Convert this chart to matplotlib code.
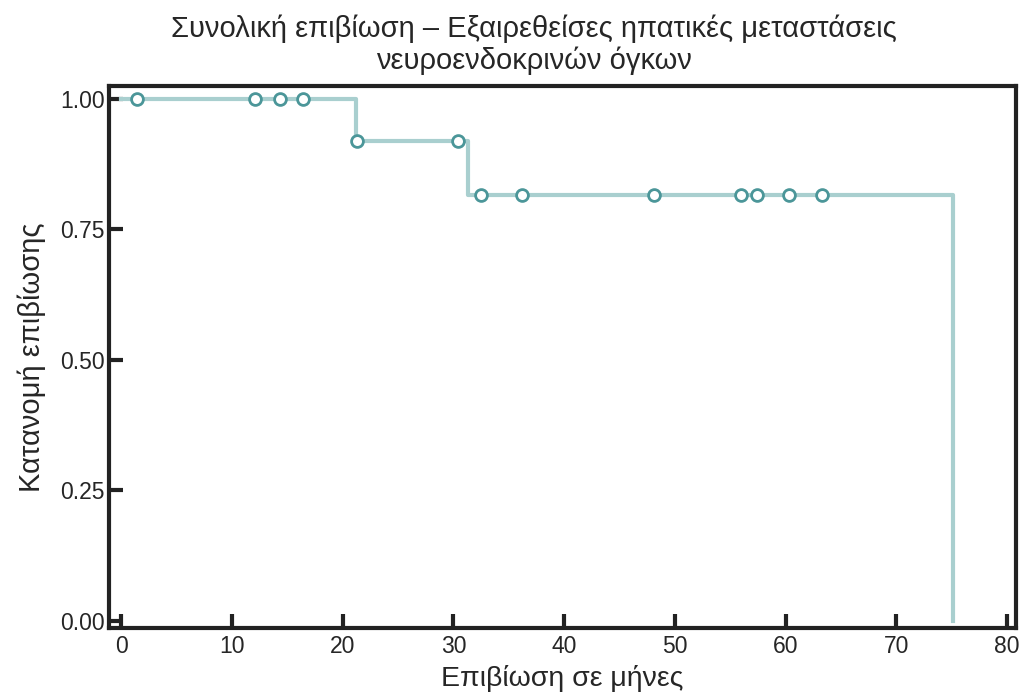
import matplotlib
matplotlib.use("Agg")
import matplotlib.pyplot as plt

# step curve (Kaplan-Meier estimate)
STEP_T = [0.0, 21.2, 31.3, 75.1, 75.1]
STEP_S = [1.0, 0.919, 0.816, 0.816, 0.0]

# censored observations
CENS_T = [1.4, 12.1, 14.3, 16.4, 21.3, 30.4, 32.5, 36.2, 48.1, 56.0, 57.4, 60.3, 63.3]
CENS_S = [1.0, 1.0, 1.0, 1.0, 0.919, 0.919, 0.816, 0.816, 0.816, 0.816, 0.816, 0.816, 0.816]

XTICKS = [0, 10, 20, 30, 40, 50, 60, 70, 80]
YTICKS = [0.0, 0.25, 0.5, 0.75, 1.0]

plt.rcParams["font.family"] = ["Liberation Sans", "DejaVu Sans"]
TXT = "#262626"

fig = plt.figure(figsize=(10.23, 6.99), dpi=100)
ax = fig.add_axes([0.1066, 0.1016, 0.8866, 0.7754])

ax.step(STEP_T, STEP_S, where="post", color="#a9cfcf", lw=3, zorder=2)
ax.plot(CENS_T, CENS_S, ls="none", marker="o", ms=8.5, mfc="white",
        mec="#4b9699", mew=2, zorder=3)

ax.set_xlim(-1.1, 80.8)
ax.set_ylim(-0.014, 1.025)
ax.set_xticks(XTICKS)
ax.set_yticks(YTICKS)
ax.set_yticklabels([f"{v:.2f}" for v in YTICKS])
ax.tick_params(direction="in", length=10, width=3, color="#222222",
               labelsize=16.5, labelcolor=TXT)
ax.tick_params(axis="y", pad=3)
ax.tick_params(axis="x", pad=5)
for s in ax.spines.values():
    s.set_linewidth(3)
    s.set_color("#222222")

ax.set_xlabel("Επιβίωση σε μήνες", fontsize=20.5, color=TXT, labelpad=5)
ax.set_ylabel("Κατανομή επιβίωσης", fontsize=21, color=TXT, labelpad=10)
ax.set_title("Συνολική επιβίωση – Εξαιρεθείσες ηπατικές μεταστάσεις\nνευροενδοκρινών όγκων",
             fontsize=21, color=TXT, pad=12, linespacing=1.15, x=0.468)

plt.savefig("out.png", dpi=100)
